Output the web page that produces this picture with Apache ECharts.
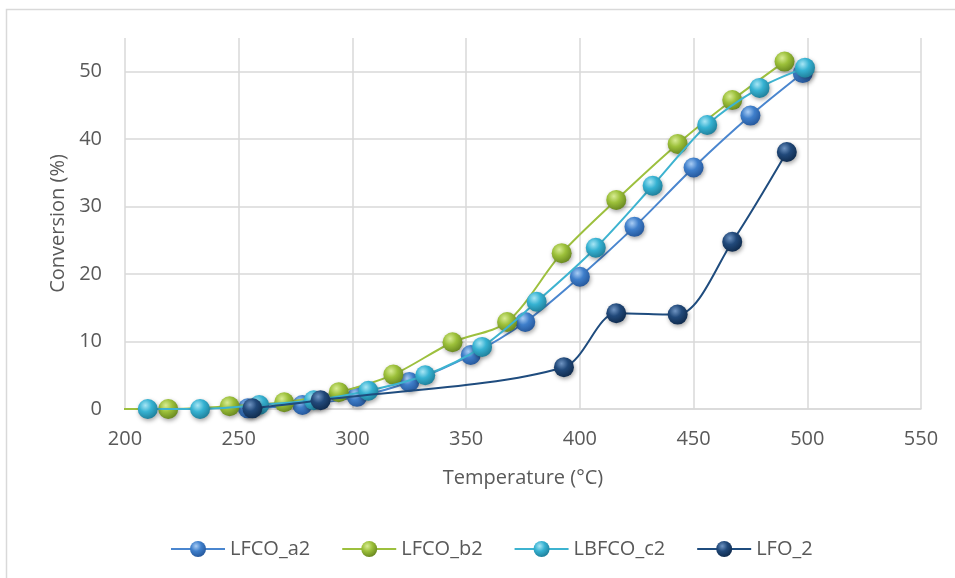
<!DOCTYPE html>
<html>
<head>
<meta charset="utf-8">
<script src="https://cdn.jsdelivr.net/npm/echarts@6/dist/echarts.min.js"></script>
<style>
  html, body { margin: 0; padding: 0; background: #fff; }
  #chart { width: 955px; height: 578px; }
</style>
</head>
<body>
<div id="chart"></div>
<script>
// Light-off curves: temperature (°C) vs. conversion (%)
const seriesNames = ['LFCO_a2', 'LFCO_b2', 'LBFCO_c2', 'LFO_2'];

const tempA2 = [254, 278, 302, 325, 352, 376, 400, 424, 450, 475, 498];
const convA2 = [0.1, 0.6, 1.8, 4.0, 8.0, 12.9, 19.6, 27.0, 35.8, 43.5, 49.8];

const tempB2 = [195, 219, 246, 270, 294, 318, 344, 368, 392, 416, 443, 467, 490];
const convB2 = [0, 0, 0.4, 1.0, 2.5, 5.1, 9.9, 12.9, 23.1, 31.0, 39.3, 45.8, 51.5];

const tempC2 = [210, 233, 259, 283, 307, 332, 357, 381, 407, 432, 456, 479, 499];
const convC2 = [0, 0, 0.6, 1.3, 2.7, 5.0, 9.2, 15.9, 23.9, 33.1, 42.1, 47.6, 50.6];

const tempLFO = [256, 286, 393, 416, 443, 467, 491];
const convLFO = [0.1, 1.3, 6.2, 14.2, 14.0, 24.8, 38.1];

const xTicks = [200, 250, 300, 350, 400, 450, 500, 550];
const yTicks = [0, 10, 20, 30, 40, 50];

const palette = [
  { line: '#4A86CF', light: '#A9CDF5', base: '#3F7FCB', dark: '#24569A' },
  { line: '#9DC03E', light: '#D8EC94', base: '#9CC03A', dark: '#67861F' },
  { line: '#3DB3D0', light: '#A8E6F5', base: '#36B2D2', dark: '#1E7D98' },
  { line: '#1F4C7E', light: '#6F94C2', base: '#21497A', dark: '#0F2A4C' }
];

function sphere(p) {
  return {
    type: 'radial', x: 0.38, y: 0.32, r: 0.72,
    colorStops: [
      { offset: 0, color: p.light },
      { offset: 0.45, color: p.base },
      { offset: 1, color: p.dark }
    ]
  };
}

function pairs(xs, ys) {
  return xs.map((x, i) => [x, ys[i]]);
}

const datasets = [
  pairs(tempA2, convA2),
  pairs(tempB2, convB2),
  pairs(tempC2, convC2),
  pairs(tempLFO, convLFO)
];

const font = '"Open Sans", sans-serif';
const textColor = '#595959';
const gridColor = '#D9D9D9';

const chart = echarts.init(document.getElementById('chart'), null, { renderer: 'canvas' });

chart.setOption({
  backgroundColor: '#fff',
  animation: false,
  graphic: [{
    type: 'rect',
    shape: { x: 6.5, y: 9.5, width: 1000, height: 1000 },
    style: { fill: 'none', stroke: '#D9D9D9', lineWidth: 1.5 },
    z: -1
  }],
  grid: { left: 125, right: 34, top: 38, bottom: 169, containLabel: false },
  legend: {
    left: 165,
    top: 534,
    itemWidth: 54,
    itemHeight: 20,
    itemGap: 31,
    textStyle: { fontFamily: font, fontSize: 20, color: textColor },
    data: seriesNames
  },
  xAxis: {
    type: 'value',
    min: 200, max: 550, interval: 50,
    name: 'Temperature (°C)',
    nameLocation: 'middle',
    nameGap: 59,
    nameTextStyle: { fontFamily: font, fontSize: 20, color: textColor },
    axisLine: { show: true, lineStyle: { color: gridColor, width: 1.5 } },
    axisTick: { show: false },
    axisLabel: {
      fontFamily: font, fontSize: 20, color: textColor, margin: 20,
      formatter: v => xTicks.includes(v) ? String(v) : ''
    },
    splitLine: { show: true, lineStyle: { color: gridColor, width: 1.5 } }
  },
  yAxis: {
    type: 'value',
    min: 0, max: 55, interval: 10,
    name: 'Conversion (%)',
    nameLocation: 'middle',
    nameGap: 56,
    nameRotate: 90,
    nameTextStyle: { fontFamily: font, fontSize: 20, color: textColor },
    axisLine: { show: false },
    axisTick: { show: false },
    axisLabel: {
      fontFamily: font, fontSize: 20, color: textColor, margin: 23,
      showMaxLabel: false,
      formatter: v => yTicks.includes(v) ? String(v) : ''
    },
    splitLine: { show: true, showMaxLine: false, lineStyle: { color: gridColor, width: 1.5 } }
  },
  series: seriesNames.map((name, i) => ({
    name: name,
    type: 'line',
    data: datasets[i],
    smooth: 0.3,
    clip: true,
    symbol: 'circle',
    symbolSize: 20,
    lineStyle: { color: palette[i].line, width: 2 },
    itemStyle: {
      color: sphere(palette[i]),
      borderWidth: 0,
      shadowBlur: 4,
      shadowOffsetX: 1,
      shadowOffsetY: 2,
      shadowColor: 'rgba(0,0,0,0.35)'
    },
    z: 2 + i
  }))
});
</script>
</body>
</html>
